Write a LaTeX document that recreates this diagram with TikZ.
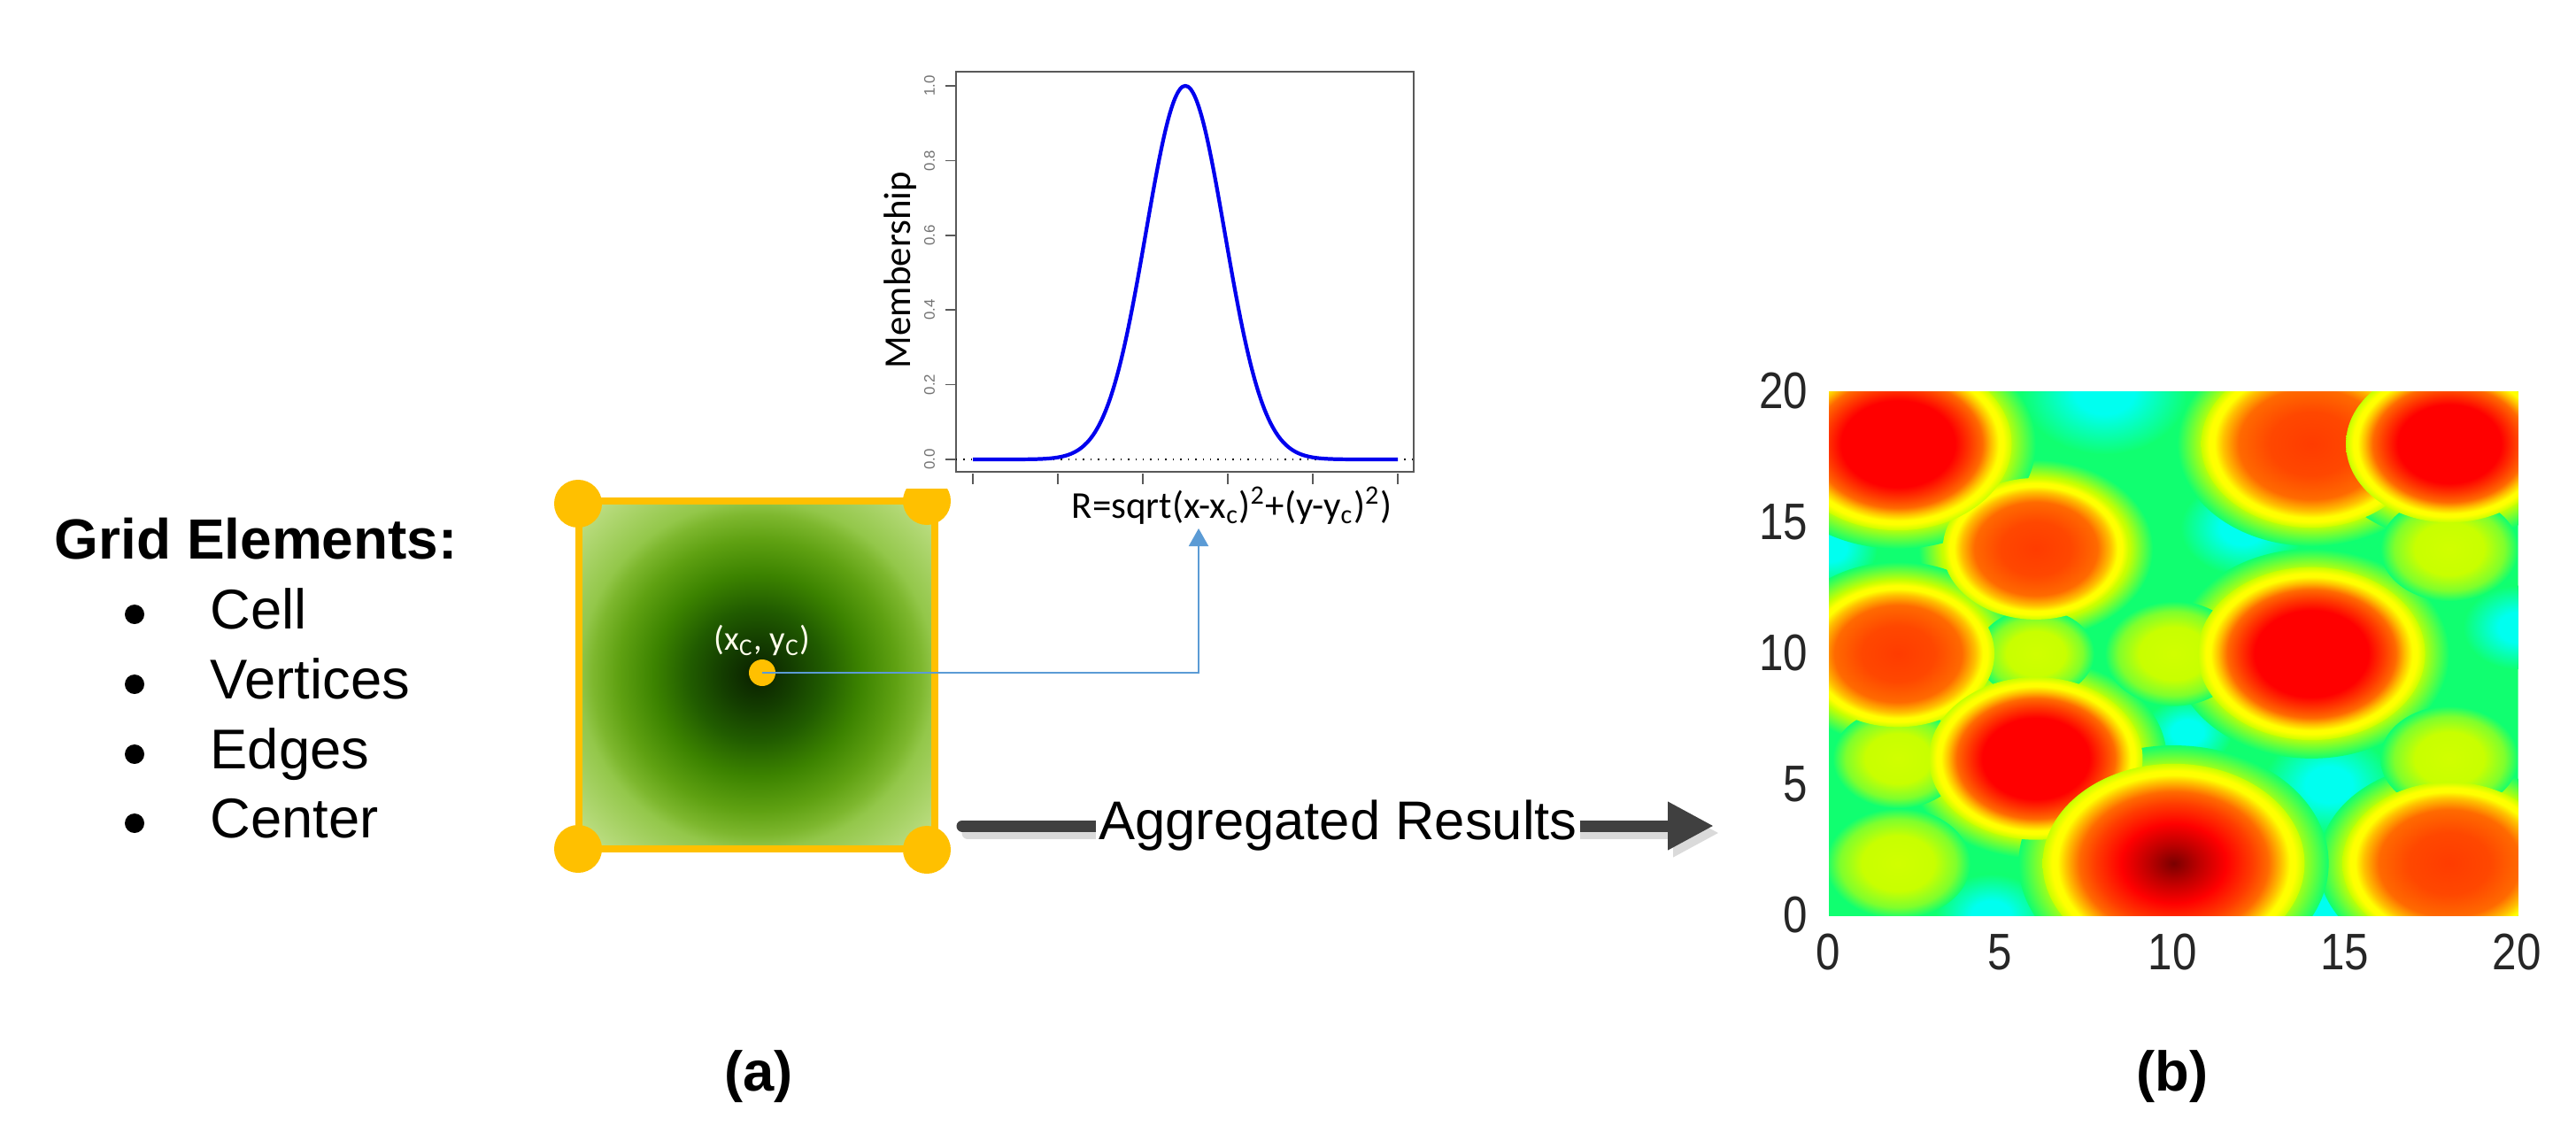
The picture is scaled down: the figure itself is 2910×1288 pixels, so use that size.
\documentclass[tikz,border=0pt]{standalone}
\usepackage{fontspec}
\setmainfont{Liberation Sans}
\newfontfamily\calibrifont{Carlito}
\usepackage{graphicx}
\usepackage{tikz}
\usetikzlibrary{arrows.meta,positioning}
\definecolor{cellGold}{HTML}{FFC000}
\definecolor{linkBlue}{HTML}{5B9BD5}
\definecolor{aggInk}{HTML}{404040}
\definecolor{aggShade}{HTML}{DADADA}
\definecolor{frameGray}{HTML}{595959}
\definecolor{curveBlue}{HTML}{0000EE}
% cell gradient
\definecolor{cellCore}{HTML}{0A2000}
\definecolor{cellDeep}{HTML}{143E00}
\definecolor{cellDark}{HTML}{215C00}
\definecolor{cellMid}{HTML}{3C8300}
\definecolor{cellLeaf}{HTML}{5FA112}
\definecolor{cellSoft}{HTML}{7DB72E}
\definecolor{cellLight}{HTML}{93C74A}
\definecolor{cellPale}{HTML}{C8E493}
% heat map
\definecolor{heatBase}{HTML}{10FF70}
\definecolor{heatCyan}{HTML}{00FFF0}
\definecolor{heatLime}{HTML}{C8FF00}
\definecolor{heatYellow}{HTML}{FFFF00}
\definecolor{heatAmber}{HTML}{FFC000}
\definecolor{heatOrange}{HTML}{FF6A00}
\definecolor{heatWarm}{HTML}{FF3C00}
\definecolor{heatRed}{HTML}{FF0000}
\definecolor{heatDeep}{HTML}{C00000}
\definecolor{heatDark}{HTML}{7A0000}

% the edge of a shaded path sits at about 25bp
\pgfdeclareradialshading{cellglow}{\pgfpointorigin}{%
  color(0bp)=(cellCore); color(5bp)=(cellDeep); color(9.5bp)=(cellDark);
  color(14.5bp)=(cellMid); color(19.5bp)=(cellLeaf); color(23bp)=(cellSoft);
  color(25bp)=(cellLight); color(35.4bp)=(cellPale); color(50bp)=(cellPale)}
\pgfdeclareradialshading{blobDark}{\pgfpointorigin}{%
  color(0bp)=(heatDark); color(5bp)=(heatDeep); color(10bp)=(heatRed);
  color(15bp)=(heatWarm); color(18bp)=(heatOrange); color(20.5bp)=(heatAmber);
  color(22.2bp)=(heatYellow); color(23.2bp)=(heatYellow); color(25bp)=(heatLime);
  color(50bp)=(heatLime)}
\pgfdeclareradialshading{blobRed}{\pgfpointorigin}{%
  color(0bp)=(heatRed); color(12.5bp)=(heatRed); color(16bp)=(heatWarm);
  color(18.5bp)=(heatOrange); color(20.5bp)=(heatAmber); color(22.2bp)=(heatYellow);
  color(23.2bp)=(heatYellow); color(25bp)=(heatLime); color(50bp)=(heatLime)}
\pgfdeclareradialshading{blobWarm}{\pgfpointorigin}{%
  color(0bp)=(heatWarm); color(9.5bp)=(heatWarm!75!heatOrange); color(16.5bp)=(heatOrange);
  color(20bp)=(heatAmber); color(22bp)=(heatYellow); color(23.2bp)=(heatYellow);
  color(25bp)=(heatLime); color(50bp)=(heatLime)}
\pgfdeclareradialshading{blobHalo}{\pgfpointorigin}{%
  color(0bp)=(heatLime); color(20bp)=(heatLime); color(25bp)=(heatBase); color(50bp)=(heatBase)}
\pgfdeclareradialshading{blobFaint}{\pgfpointorigin}{%
  color(0bp)=(heatLime!85!heatYellow); color(12.5bp)=(heatLime);
  color(20bp)=(heatLime!60!heatBase); color(25bp)=(heatBase); color(50bp)=(heatBase)}
\pgfdeclareradialshading{gapCyan}{\pgfpointorigin}{%
  color(0bp)=(heatCyan); color(9bp)=(heatCyan); color(25bp)=(heatBase); color(50bp)=(heatBase)}

\newcommand\heatnum[1]{\scalebox{0.85}[1]{#1}}

\begin{document}
\begin{tikzpicture}[
  x=0.01cm, y=-0.01cm,
  font=\fontsize{18}{21}\selectfont,
  listhead/.style={font=\fontsize{18.2}{21}\selectfont\bfseries, anchor=base west, inner sep=0pt},
  listitem/.style={anchor=base west, inner sep=0pt},
  bulletdot/.style={circle, fill=black, minimum size=0.22cm, inner sep=0pt},
  cellbox/.style={draw=cellGold, line width=2.4pt, shade, shading=cellglow, minimum width=4.02cm, minimum height=3.93cm, inner sep=0pt},
  vertexdot/.style={circle, fill=cellGold, minimum size=0.54cm, inner sep=0pt},
  centerdot/.style={circle, fill=cellGold, minimum size=0.30cm, inner sep=0pt},
  centerlabel/.style={font=\calibrifont\fontsize{11}{12}\selectfont, text=white!92!yellow, inner sep=0pt},
  link/.style={draw=linkBlue, line width=0.6pt, -{Triangle[length=0.2cm, width=0.22cm]}},
  plotframe/.style={draw=frameGray, line width=0.6pt},
  plottick/.style={draw=frameGray, line width=0.5pt},
  zeroline/.style={draw=black, line width=0.4pt, dotted},
  gausscurve/.style={draw=curveBlue, line width=1.2pt, line join=round},
  ytlabel/.style={font=\fontsize{4.8}{5}\selectfont, text=black!55, inner sep=0pt},
  axislabel/.style={font=\calibrifont\fontsize{12.2}{14}\selectfont, inner sep=0pt},
  aggarrow/.style={draw=aggInk, line width=0.13cm, line cap=round, -{Triangle[length=0.52cm, width=0.51cm]}},
  aggshadow/.style={aggarrow, draw=aggShade, transform canvas={xshift=0.06cm, yshift=-0.08cm}},
  aggtext/.style={font=\fontsize{17.5}{20}\selectfont, fill=white, inner xsep=1pt, inner ysep=2pt},
  heattick/.style={font=\fontsize{16.5}{18}\selectfont, text=black!85, inner sep=0pt},
  panel/.style={font=\fontsize{18}{21}\selectfont\bfseries, inner sep=0pt}
]
  \useasboundingbox[fill=white] (0,0) rectangle (2910,1288);

  % grid element list
  \node[listhead] (ghead) at (61,631) {Grid Elements:};
  \foreach \name/\txt/\yb in {icell/Cell/710, ivert/Vertices/789, iedge/Edges/868, icent/Center/946} {
    \node[bulletdot] (b\name) at (152,\yb-16) {};
    \node[listitem] (\name) at (237,\yb) {\txt};
  }

  % the cell
  \node[cellbox] (cell) at (855,762.5) {};
  \node[vertexdot] (vtl) at (653,569) {};
  \node[vertexdot] (vbl) at (653,959) {};
  \node[vertexdot] (vbr) at (1047,960) {};
  \begin{scope}
    \clip (1000,552) rectangle (1100,620);
    \node[vertexdot] (vtr) at (1047,566) {};
  \end{scope}
  \node[centerdot] (ctr) at (861,760) {};
  \node[centerlabel, above=0.03cm of ctr] (ctrlabel) {(x\textsubscript{C}, y\textsubscript{C})};

  % membership function
  \draw[plotframe] (1080,81) rectangle (1597,533);
  \draw[zeroline] (1080,519) -- (1597,519);
  \foreach \k in {0,...,5}
    \draw[plottick] (1099+96*\k,535) -- ++(0,12);
  \foreach \v in {0.0,0.2,0.4,0.6,0.8,1.0} {
    \draw[plottick] (1068,519-422*\v) -- (1080,519-422*\v);
    \node[ytlabel, rotate=90] (yt\v) at (1050,519-422*\v) {\v};
  }
  \draw[gausscurve] plot[domain=1099:1579, samples=161, smooth]
    (\x,{519-422*exp(max(-9,-0.5*((\x-1339)/44.6)^2))});
  \node[axislabel, rotate=90] (ylab) at (1017,305) {Membership};
  \node[axislabel, anchor=base west] (rform) at (1210,585)
    {R=sqrt(x-x\textsubscript{c})\textsuperscript{2}+(y-y\textsubscript{c})\textsuperscript{2})};
  \coordinate (rtip) at (1354,597);
  \draw[link] (ctr.center) -| (rtip);

  % aggregation arrow
  \coordinate (aggfrom) at (1087,933);
  \coordinate (aggto) at (1936,933);
  \draw[aggshadow] (aggfrom) -- (aggto);
  \draw[aggarrow] (aggfrom) -- node[aggtext] (agg) {Aggregated Results} (aggto);

  % aggregated surface
  \node[minimum width=7.78cm, minimum height=5.92cm, inner sep=0pt] (heat) at (2454,738) {};
  \begin{scope}[transform canvas={shift={(20.65cm,-10.34cm)}, yscale=0.761}, x=0.389cm, y=0.389cm]
    \clip (0,0) rectangle (20,20);
    \fill[heatBase] (0,0) rectangle (20,20);
    \foreach \cx/\cy/\r in {8/20/2.4, 0/14/1.4, 12/14.8/1.8, 10.4/7/1.3, 14.5/5/1.9,
                            4.7/0/1.6, 14.4/0/1.6, 20/11/1.6}
      \shade[shading=gapCyan] (\cx,\cy) circle (\r);
    \foreach \cx/\cy/\r in {18/2/3.1, 6/14/2.7, 2/10/2.8, 14/18/3.2, 2/18/3.3,
                            6/6/3.1, 14/10/3.3, 18/18/3.0, 10/2/3.8}
      \shade[shading=blobHalo] (\cx,\cy) circle ({\r+0.7});
    \foreach \cx/\cy/\r in {2/2/2.1, 2/6/1.9, 6/10/1.7, 10/10/2.0, 18/6/2.0, 18/14/2.0}
      \shade[shading=blobFaint] (\cx,\cy) circle (\r);
    \foreach \cx/\cy/\r/\s in {18/2/3.1/blobWarm, 6/14/2.7/blobWarm, 2/10/2.8/blobWarm,
                               14/18/3.2/blobWarm, 2/18/3.3/blobRed, 6/6/3.1/blobRed,
                               14/10/3.3/blobRed, 18/18/3.0/blobRed, 10/2/3.8/blobDark}
      \shade[shading=\s] (\cx,\cy) circle (\r);
  \end{scope}
  \foreach \v/\p in {0/0, 5/194.5, 10/389, 15/583.5, 20/778}
    \node[heattick] (hx\v) at (2065+\p,1076) {\heatnum{\v}};
  \foreach \v/\p in {0/0, 5/148, 10/296, 15/444, 20/592}
    \node[heattick, anchor=east] (hy\v) at (2043,1034-\p) {\heatnum{\v}};

  % panel captions
  \node[panel] (pa) at (857,1216) {(a)};
  \node[panel] (pb) at (2454,1216) {(b)};
\end{tikzpicture}
\end{document}
